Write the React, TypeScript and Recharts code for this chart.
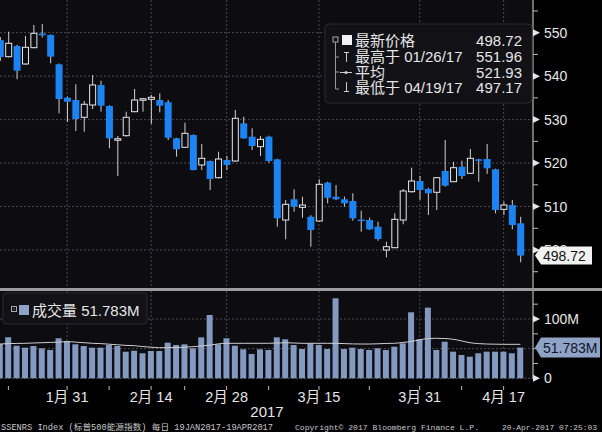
import React from 'react';
import { ComposedChart, Bar, Line, XAxis, YAxis, CartesianGrid } from 'recharts';

const dates = [
  '01/19','01/20','01/23','01/24','01/25','01/26','01/27','01/30','01/31',
  '02/01','02/02','02/03','02/06','02/07','02/08','02/09','02/10','02/13','02/14','02/15','02/16','02/17','02/21','02/22','02/23','02/24','02/27','02/28',
  '03/01','03/02','03/03','03/06','03/07','03/08','03/09','03/10','03/13','03/14','03/15','03/16','03/17','03/20','03/21','03/22','03/23','03/24','03/27','03/28','03/29','03/30','03/31',
  '04/03','04/04','04/05','04/06','04/07','04/10','04/11','04/12','04/13','04/17','04/18','04/19'
];

const open = [548.3,544.48,546.94,542.8,546.55,549.8,549.47,542.73,535.04,534.51,530.53,533.36,537.97,533.13,525.3,526.3,531.82,534.6,534.68,534.51,533.99,525.7,523.63,526.46,519.56,520.48,516.64,520.71,520.48,529.15,526.07,523.77,526.07,520.87,506.9,511.67,509.82,507.66,506.67,515.49,512.26,511.67,511.28,507.0,506.9,505.36,500.0,500.53,506.9,513.41,515.88,514.04,513.28,518.18,515.72,519.17,517.65,520.87,520.94,518.57,509.36,510.35,506.14];
const high = [549.0,550.23,547.2,549.24,551.77,551.96,549.6,542.9,535.3,538.13,534.28,540.27,538.96,533.3,526.23,531.82,537.05,535.0,535.66,536.06,534.51,525.8,529.29,526.6,524.39,520.6,522.62,521.63,532.21,530.67,528.0,526.23,526.3,521.0,511.5,513.97,512.26,508.0,516.27,515.7,514.96,512.3,513.05,509.04,507.43,506.51,501.91,508.44,514.04,518.94,517.03,514.3,516.8,525.31,520.32,520.55,523.24,521.0,524.39,518.7,511.11,511.5,507.66];
const low = [543.5,544.3,539.28,542.6,546.4,548.9,542.96,531.45,529.45,527.38,527.22,532.44,531.82,523.4,517.03,526.1,531.7,531.82,528.99,531.68,525.31,521.47,523.5,518.3,518.41,513.81,516.5,518.41,520.3,525.6,523.0,521.63,520.09,505.36,502.46,508.81,507.43,500.76,506.5,510.74,511.5,510.0,506.74,504.21,504.6,502.14,498.32,500.4,505.91,513.18,511.5,508.05,509.2,514.57,515.6,516.34,517.5,515.72,517.49,508.44,508.05,504.76,497.17];
const close = [544.4,547.56,541.26,546.64,549.86,549.4,544.48,534.74,534.12,530.14,533.53,537.97,533.2,525.7,525.6,530.53,534.51,534.8,535.14,533.2,525.84,523.17,526.85,518.41,521.1,516.34,520.94,519.56,530.3,525.7,523.93,525.47,520.48,507.3,510.51,509.96,510.35,504.6,515.12,512.03,511.67,510.74,507.3,506.8,504.76,502.53,500.76,507.06,513.58,515.88,513.81,513.05,516.64,514.8,518.94,517.03,521.1,520.55,518.8,509.2,510.35,505.75,498.72];
const volume = [57.8,69.1,55.0,51.6,54.5,50.6,47.7,67.5,62.9,57.3,54.5,51.6,51.6,56.2,54.5,44.9,46.5,42.2,46.0,46.0,60.1,56.2,57.3,50.6,69.1,106.7,57.3,67.5,55.0,48.9,41.0,48.9,47.7,69.1,65.8,56.2,49.4,59.0,56.2,49.4,134.9,49.4,51.6,49.4,47.7,50.6,47.7,53.3,59.0,111.3,65.8,119.1,47.7,61.7,44.9,39.3,36.4,42.2,44.9,44.9,44.9,42.2,51.783];
const volumeAvg = [57.8,58.5,58.8,59,59.5,60,60.5,61,61.8,61,60,59,58.5,57.5,56.5,55.5,55,53.5,52.5,51.6,51.6,52,52.5,53.3,54.5,56,58,59,59,59,59,59,59,59.5,60,59.5,59,59,59,59,59,58.5,58,57.8,57.8,58.2,58.8,59,60.5,62,65,67,67.5,67,65.8,63,60,58.5,57.8,57.5,57.3,57.3,57.3];

const majorTicks = [8, 18, 27, 38, 50, 60];
const majorLabels = ['1月 31', '2月 14', '2月 28', '3月 15', '3月 31', '4月 17'];
const minorTicks = [1, 13, 22, 32, 44, 55];
const priceTicks = [495, 500, 505, 510, 515, 520, 525, 530, 535, 540, 545, 550, 555];
const priceGrid = [500, 510, 520, 530, 540, 550];
const volTicks = [0, 25, 50, 75, 100, 125];
const volGrid = [0, 50, 100];
const lastPrice = 498.72;
const lastVolume = 51.783;
const legendRows = [
  { label: '最新价格', value: '498.72' },
  { label: '最高于 01/26/17', value: '551.96' },
  { label: '平均', value: '521.93' },
  { label: '最低于 04/19/17', value: '497.17' },
];

const rows = dates.map((d, i) => ({
  i, date: d, open: open[i], high: high[i], low: low[i], close: close[i],
  range: [low[i], high[i]], vol: volume[i], ma: volumeAvg[i],
}));

const NUM_FONT = '"Liberation Sans", Arial, sans-serif';
const CJK_FONT = '"Liberation Sans", "Noto Sans CJK SC", sans-serif';
const FOOT_FONT = '"Liberation Mono", "Noto Sans CJK SC", monospace';
const PLOT_BG = '#0c0c11';
const GRID = '#4b4b52';
const TEXT = '#e6e6e6';
const PRICE_DOMAIN: [number, number] = [491.26, 557.52];
const VOL_DOMAIN: [number, number] = [-1.18, 147.2];
const X_DOMAIN: [number, number] = [0, 63.5];

const Candle = (props: any) => {
  const { x, y, width, height, payload } = props;
  if (x == null || payload == null) return null;
  const top = Math.min(y, y + height);
  const bot = Math.max(y, y + height);
  const span = payload.high - payload.low || 1;
  const py = (v: number) => top + ((payload.high - v) / span) * (bot - top);
  const cx = x + width / 2;
  const up = payload.close >= payload.open;
  const yO = py(payload.open);
  const yC = py(payload.close);
  const bTop = Math.min(yO, yC);
  const bH = Math.max(Math.abs(yO - yC), 1.5);
  return (
    <g>
      <line x1={cx} x2={cx} y1={top} y2={bot} stroke="#d0d0d0" strokeWidth={1} />
      {up ? (
        <rect x={x + 0.5} y={bTop} width={width - 1} height={bH} fill={PLOT_BG} stroke="#e8e8e8" strokeWidth={1} />
      ) : (
        <rect x={x} y={bTop} width={width} height={bH} fill="#1c84f2" />
      )}
    </g>
  );
};

const PriceTick = (props: any) => {
  const { x, y, payload } = props;
  const v = payload.value;
  if (v === lastPrice) {
    return (
      <g>
        <polygon points={`${x + 2},${y} ${x + 8},${y - 9} ${x + 59},${y - 9} ${x + 59},${y + 9} ${x + 8},${y + 9}`} fill="#f2f2f2" />
        <text x={x + 10} y={y + 5} fill="#111" fontSize={14} fontFamily={NUM_FONT}>{v.toFixed(2)}</text>
      </g>
    );
  }
  if (v % 10 === 0) {
    return (
      <g>
        <polygon points={`${x},${y - 3.5} ${x + 7},${y} ${x},${y + 3.5}`} fill={TEXT} />
        <text x={x + 11} y={y + 5} fill={TEXT} fontSize={14} fontFamily={NUM_FONT}>{v}</text>
      </g>
    );
  }
  return <line x1={x} x2={x + 5} y1={y} y2={y} stroke="#bbb" strokeWidth={1} />;
};

const VolTick = (props: any) => {
  const { x, y, payload } = props;
  const v = payload.value;
  if (v === lastVolume) {
    return (
      <g>
        <polygon points={`${x + 2},${y} ${x + 8},${y - 10} ${x + 67},${y - 10} ${x + 67},${y + 10} ${x + 8},${y + 10}`} fill="#8ea3c6" />
        <text x={x + 10} y={y + 5} fill="#101428" fontSize={14} fontFamily={NUM_FONT}>{v}M</text>
      </g>
    );
  }
  if (v === 0 || v === 100) {
    return (
      <g>
        <polygon points={`${x},${y - 3.5} ${x + 7},${y} ${x},${y + 3.5}`} fill={TEXT} />
        <text x={x + 11} y={y + 5} fill={TEXT} fontSize={14} fontFamily={NUM_FONT}>{v === 0 ? '0' : `${v}M`}</text>
      </g>
    );
  }
  return <line x1={x} x2={x + 5} y1={y} y2={y} stroke="#bbb" strokeWidth={1} />;
};

const DateTick = (props: any) => {
  const { x, y, payload } = props;
  const k = majorTicks.indexOf(payload.value);
  return (
    <g>
      <line x1={x} x2={x} y1={y + 7} y2={y + 11} stroke="#bbb" strokeWidth={1} />
      {k >= 0 && (
        <text x={x} y={y + 22.5} textAnchor="middle" fill={TEXT} fontSize={14.5} fontFamily={CJK_FONT}>{majorLabels[k]}</text>
      )}
    </g>
  );
};

export default function App() {
  return (
    <div style={{ position: 'absolute', left: 0, top: 0, width: 602, height: 432, background: '#000', overflow: 'hidden' }}>
      <div style={{ position: 'absolute', left: 0, top: 0 }}>
        <ComposedChart width={602} height={288} data={rows} margin={{ top: 0, right: 0, bottom: 0, left: 0 }}>
          <XAxis dataKey="i" type="number" domain={X_DOMAIN} allowDataOverflow hide ticks={majorTicks} interval={0} />
          <YAxis orientation="right" width={69} domain={PRICE_DOMAIN} allowDataOverflow
            ticks={[...priceTicks, lastPrice]} interval={0} tickSize={0} tickMargin={0}
            tick={PriceTick} tickLine={false} axisLine={{ stroke: '#d8d8d8' }} />
          <CartesianGrid fill={PLOT_BG} stroke={GRID} strokeDasharray="2 2"
            horizontalValues={priceGrid} verticalValues={majorTicks} />
          <Bar dataKey="range" shape={Candle} barSize={7} isAnimationActive={false} />
        </ComposedChart>
      </div>
      <div style={{ position: 'absolute', left: 0, top: 288, width: 602, height: 3, background: '#9c9c9c' }} />
      <div style={{ position: 'absolute', left: 0, top: 291 }}>
        <ComposedChart width={602} height={120} data={rows} margin={{ top: 0, right: 0, bottom: 0, left: 0 }}>
          <XAxis dataKey="i" type="number" domain={X_DOMAIN} allowDataOverflow height={32}
            ticks={[...majorTicks, ...minorTicks].sort((a, b) => a - b)} interval={0}
            tickSize={0} tickMargin={0} tick={DateTick} tickLine={false} axisLine={false} />
          <YAxis orientation="right" width={69} domain={VOL_DOMAIN} allowDataOverflow
            ticks={[...volTicks, lastVolume]} interval={0} tickSize={0} tickMargin={0}
            tick={VolTick} tickLine={false} axisLine={{ stroke: '#d8d8d8' }} />
          <CartesianGrid fill={PLOT_BG} stroke={GRID} strokeDasharray="2 2"
            horizontalValues={volGrid} verticalValues={majorTicks} />
          <Bar dataKey="vol" fill="#8399c0" barSize={6} isAnimationActive={false} />
          <Line dataKey="ma" stroke="#cfcfcf" strokeWidth={1} dot={false} type="monotone" isAnimationActive={false} />
        </ComposedChart>
      </div>
      <svg width={602} height={432} style={{ position: 'absolute', left: 0, top: 0, pointerEvents: 'none' }}>
        <rect x={325} y={24} width={207} height={79} rx={4} fill="#111116" stroke="#2a2a30" />
        <rect x={333} y={37} width={5} height={5} fill="none" stroke="#aaa" strokeWidth={1} />
        <line x1={335.5} x2={335.5} y1={42} y2={89} stroke="#999" strokeWidth={1} />
        <line x1={335.5} x2={339} y1={57} y2={57} stroke="#999" />
        <line x1={335.5} x2={339} y1={72} y2={72} stroke="#999" />
        <line x1={335.5} x2={339} y1={89} y2={89} stroke="#999" />
        <rect x={342} y={35} width={10} height={10} fill="#f2f2f2" />
        <line x1={346.5} x2={346.5} y1={52} y2={62} stroke="#ccc" />
        <line x1={344} x2={349} y1={52.5} y2={52.5} stroke="#ccc" />
        <line x1={340} x2={352} y1={72.5} y2={72.5} stroke="#ccc" />
        <circle cx={346} cy={72.5} r={1.6} fill="#ccc" />
        <line x1={346.5} x2={346.5} y1={82} y2={92} stroke="#ccc" />
        <line x1={344} x2={349} y1={91.5} y2={91.5} stroke="#ccc" />
        {legendRows.map((r, k) => (
          <g key={r.label}>
            <text x={355} y={46 + k * 15.8} fill={TEXT} fontSize={15} fontFamily={CJK_FONT}>{r.label}</text>
            <text x={522} y={46 + k * 15.8} fill={TEXT} fontSize={15} fontFamily={NUM_FONT} textAnchor="end">{r.value}</text>
          </g>
        ))}
        <rect x={3} y={293} width={144} height={31} rx={3} fill="#111116" stroke="#2a2a30" />
        <rect x={11.5} y={306.5} width={5} height={5} fill="none" stroke="#aaa" />
        <rect x={13.5} y={308.5} width={1} height={1} fill="#aaa" />
        <rect x={19} y={305} width={10} height={10} fill="#8ea3c6" />
        <text x={32} y={316} fill={TEXT} fontSize={15} fontFamily={CJK_FONT}>成交量 51.783M</text>
        <text x={267} y={417} fill={TEXT} fontSize={15} fontFamily={NUM_FONT} textAnchor="middle">2017</text>
        <text x={1} y={430} fill="#c8c8c8" fontSize={8.3} fontFamily={FOOT_FONT} textLength={272} lengthAdjust="spacingAndGlyphs">SSENRS Index (标普500能源指数)  每日  19JAN2017-19APR2017</text>
        <text x={295} y={430} fill="#c8c8c8" fontSize={8} fontFamily={FOOT_FONT} textLength={184} lengthAdjust="spacingAndGlyphs">Copyright© 2017 Bloomberg Finance L.P.</text>
        <text x={502} y={430} fill="#c8c8c8" fontSize={7.9} fontFamily={FOOT_FONT} textLength={95} lengthAdjust="spacingAndGlyphs">20-Apr-2017 07:25:03</text>
      </svg>
    </div>
  );
}
